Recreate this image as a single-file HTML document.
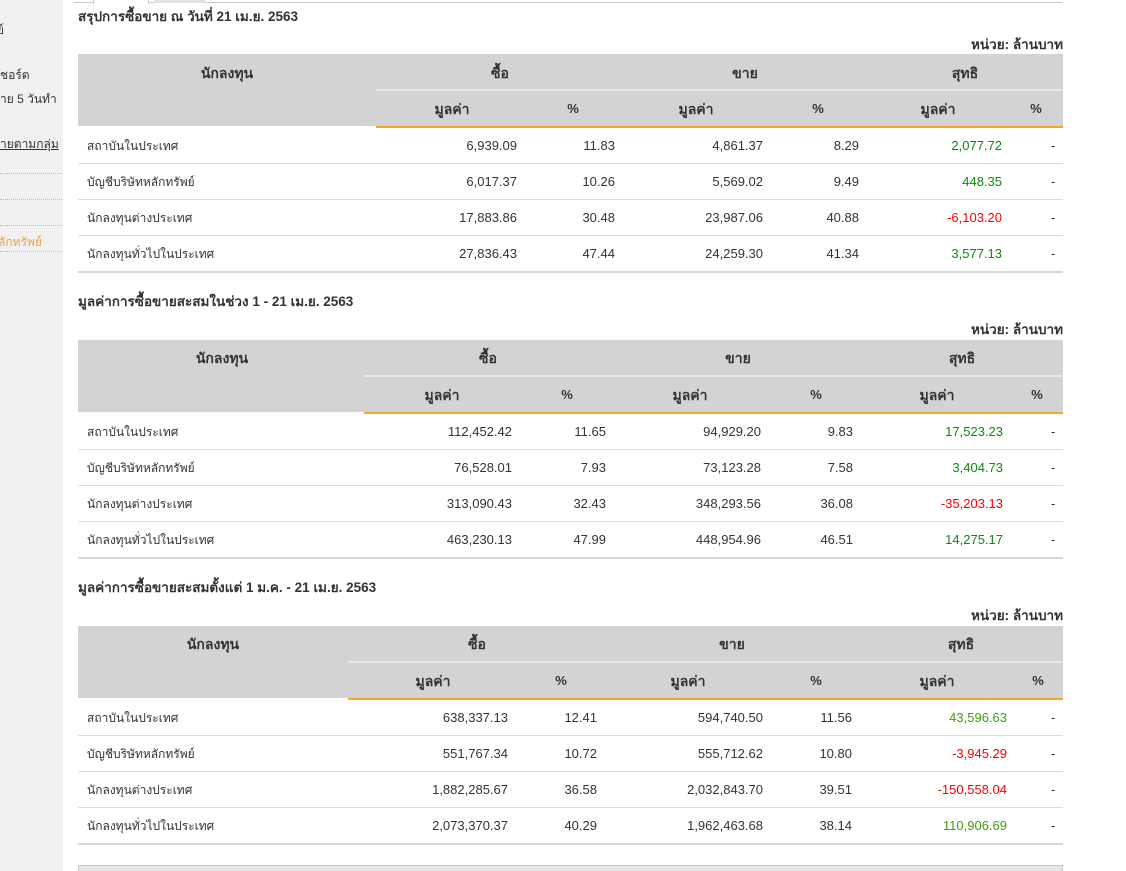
<!DOCTYPE html>
<html><head><meta charset="utf-8">
<style>
*{margin:0;padding:0;box-sizing:border-box}
html,body{width:1126px;height:871px;overflow:hidden;background:#fff}
body{position:relative;font-family:"Liberation Sans","DejaVu Sans",sans-serif;font-size:13px;color:#333}
.a{position:absolute;white-space:nowrap;height:20px;line-height:20px;padding-top:1px}
.c{text-align:center;width:140px}
.r{text-align:right;width:200px}
.b{font-weight:bold}
.h{font-size:14px}
.tt{font-size:13.5px}
.lb{font-size:12px}
.sb{position:absolute;left:0;top:0;width:63px;height:871px;background:#f1f1f1;overflow:hidden;font-size:12px}
.dot{position:absolute;left:0;width:62px;height:0;border-top:1px dotted #bbb}
.t{position:absolute;left:0;width:1126px}
.hb{position:absolute;left:78px;width:985px;top:0;height:72px;background:#d3d3d3}
.dv{position:absolute;top:35px;height:2px;background:#e8e8e8}
.or{position:absolute;top:72px;height:2px;background:#f7a827}
.rw{position:absolute;left:78px;width:985px;height:36px;border-bottom:1px solid #dedede}
.rl{border-bottom:2px solid #d8d8d8}
.g{color:#0a8a0a}.g3{color:#3f9e10}.rd{color:#f00}
</style></head><body>

<div class="sb">
  <div class="a" style="left:-3px;top:19px">ย์</div>
  <div class="a" style="left:0;top:64px">ชอร์ต</div>
  <div class="a" style="left:0;top:88px">าย 5 วันทำ</div>
  <div class="a" style="left:0;top:133px;text-decoration:underline">ายตามกลุ่ม</div>
  <div class="dot" style="top:173px"></div>
  <div class="dot" style="top:199px"></div>
  <div class="dot" style="top:225px"></div>
  <div class="a" style="left:-2px;top:231px;color:#f0a040">ลักทรัพย์</div>
  <div class="dot" style="top:251px"></div>
</div>

<!-- top tabs -->
<div style="position:absolute;left:73px;top:2px;width:990px;height:1px;background:#ccc"></div>
<div style="position:absolute;left:93px;top:0;width:56px;height:4px;background:#fff;border-left:1px solid #ccc;border-right:1px solid #ccc"></div>
<div style="position:absolute;left:154px;top:0;width:51px;height:3px;background:#e2e2e2"></div>

<!-- TABLE 1 -->
<div class="t" style="top:54px">
  <div class="a b tt" style="left:78px;top:-48px">สรุปการซื้อขาย ณ วันที่ 21 เม.ย. 2563</div>
  <div class="a b r tt" style="left:863px;top:-20px">หน่วย: ล้านบาท</div>
  <div class="hb"></div>
  <div class="dv" style="left:376px;width:687px"></div>
  <div class="or" style="left:376px;width:687px"></div>
  <div class="a b c h" style="left:157px;top:8px">นักลงทุน</div>
  <div class="a b c h" style="left:430px;top:8px">ซื้อ</div>
  <div class="a b c h" style="left:675px;top:8px">ขาย</div>
  <div class="a b c h" style="left:895px;top:8px">สุทธิ</div>
  <div class="a b c h" style="left:382px;top:44px">มูลค่า</div>
  <div class="a b c" style="left:503px;top:44px">%</div>
  <div class="a b c h" style="left:626px;top:44px">มูลค่า</div>
  <div class="a b c" style="left:748px;top:44px">%</div>
  <div class="a b c h" style="left:868px;top:44px">มูลค่า</div>
  <div class="a b c" style="left:966px;top:44px">%</div>

  <div class="rw" style="top:74px;height:36px"></div>
  <div class="rw" style="top:110px"></div>
  <div class="rw" style="top:146px"></div>
  <div class="rw rl" style="top:182px;height:37px"></div>

  <div class="a lb" style="left:87px;top:81px">สถาบันในประเทศ</div>
  <div class="a r" style="left:317px;top:81px">6,939.09</div>
  <div class="a r" style="left:415px;top:81px">11.83</div>
  <div class="a r" style="left:563px;top:81px">4,861.37</div>
  <div class="a r" style="left:659px;top:81px">8.29</div>
  <div class="a r g" style="left:802px;top:81px">2,077.72</div>
  <div class="a" style="left:1051px;top:81px">-</div>

  <div class="a lb" style="left:87px;top:117px">บัญชีบริษัทหลักทรัพย์</div>
  <div class="a r" style="left:317px;top:117px">6,017.37</div>
  <div class="a r" style="left:415px;top:117px">10.26</div>
  <div class="a r" style="left:563px;top:117px">5,569.02</div>
  <div class="a r" style="left:659px;top:117px">9.49</div>
  <div class="a r g" style="left:802px;top:117px">448.35</div>
  <div class="a" style="left:1051px;top:117px">-</div>

  <div class="a lb" style="left:87px;top:153px">นักลงทุนต่างประเทศ</div>
  <div class="a r" style="left:317px;top:153px">17,883.86</div>
  <div class="a r" style="left:415px;top:153px">30.48</div>
  <div class="a r" style="left:563px;top:153px">23,987.06</div>
  <div class="a r" style="left:659px;top:153px">40.88</div>
  <div class="a r rd" style="left:802px;top:153px">-6,103.20</div>
  <div class="a" style="left:1051px;top:153px">-</div>

  <div class="a lb" style="left:87px;top:189px">นักลงทุนทั่วไปในประเทศ</div>
  <div class="a r" style="left:317px;top:189px">27,836.43</div>
  <div class="a r" style="left:415px;top:189px">47.44</div>
  <div class="a r" style="left:563px;top:189px">24,259.30</div>
  <div class="a r" style="left:659px;top:189px">41.34</div>
  <div class="a r g" style="left:802px;top:189px">3,577.13</div>
  <div class="a" style="left:1051px;top:189px">-</div>
</div>

<!-- TABLE 2 -->
<div class="t" style="top:340px">
  <div class="a b tt" style="left:78px;top:-49px">มูลค่าการซื้อขายสะสมในช่วง 1 - 21 เม.ย. 2563</div>
  <div class="a b r tt" style="left:863px;top:-21px">หน่วย: ล้านบาท</div>
  <div class="hb"></div>
  <div class="dv" style="left:364px;width:699px"></div>
  <div class="or" style="left:364px;width:699px"></div>
  <div class="a b c h" style="left:152px;top:7px">นักลงทุน</div>
  <div class="a b c h" style="left:418px;top:7px">ซื้อ</div>
  <div class="a b c h" style="left:668px;top:7px">ขาย</div>
  <div class="a b c h" style="left:892px;top:7px">สุทธิ</div>
  <div class="a b c h" style="left:372px;top:44px">มูลค่า</div>
  <div class="a b c" style="left:497px;top:44px">%</div>
  <div class="a b c h" style="left:620px;top:44px">มูลค่า</div>
  <div class="a b c" style="left:746px;top:44px">%</div>
  <div class="a b c h" style="left:867px;top:44px">มูลค่า</div>
  <div class="a b c" style="left:967px;top:44px">%</div>

  <div class="rw" style="top:74px"></div>
  <div class="rw" style="top:110px"></div>
  <div class="rw" style="top:146px"></div>
  <div class="rw rl" style="top:182px;height:37px"></div>

  <div class="a lb" style="left:87px;top:81px">สถาบันในประเทศ</div>
  <div class="a r" style="left:312px;top:81px">112,452.42</div>
  <div class="a r" style="left:406px;top:81px">11.65</div>
  <div class="a r" style="left:561px;top:81px">94,929.20</div>
  <div class="a r" style="left:653px;top:81px">9.83</div>
  <div class="a r g" style="left:803px;top:81px">17,523.23</div>
  <div class="a" style="left:1051px;top:81px">-</div>

  <div class="a lb" style="left:87px;top:117px">บัญชีบริษัทหลักทรัพย์</div>
  <div class="a r" style="left:312px;top:117px">76,528.01</div>
  <div class="a r" style="left:406px;top:117px">7.93</div>
  <div class="a r" style="left:561px;top:117px">73,123.28</div>
  <div class="a r" style="left:653px;top:117px">7.58</div>
  <div class="a r g" style="left:803px;top:117px">3,404.73</div>
  <div class="a" style="left:1051px;top:117px">-</div>

  <div class="a lb" style="left:87px;top:153px">นักลงทุนต่างประเทศ</div>
  <div class="a r" style="left:312px;top:153px">313,090.43</div>
  <div class="a r" style="left:406px;top:153px">32.43</div>
  <div class="a r" style="left:561px;top:153px">348,293.56</div>
  <div class="a r" style="left:653px;top:153px">36.08</div>
  <div class="a r rd" style="left:803px;top:153px">-35,203.13</div>
  <div class="a" style="left:1051px;top:153px">-</div>

  <div class="a lb" style="left:87px;top:189px">นักลงทุนทั่วไปในประเทศ</div>
  <div class="a r" style="left:312px;top:189px">463,230.13</div>
  <div class="a r" style="left:406px;top:189px">47.99</div>
  <div class="a r" style="left:561px;top:189px">448,954.96</div>
  <div class="a r" style="left:653px;top:189px">46.51</div>
  <div class="a r g" style="left:803px;top:189px">14,275.17</div>
  <div class="a" style="left:1051px;top:189px">-</div>
</div>

<!-- TABLE 3 -->
<div class="t" style="top:626px">
  <div class="a b tt" style="left:78px;top:-49px">มูลค่าการซื้อขายสะสมตั้งแต่ 1 ม.ค. - 21 เม.ย. 2563</div>
  <div class="a b r tt" style="left:863px;top:-21px">หน่วย: ล้านบาท</div>
  <div class="hb"></div>
  <div class="dv" style="left:348px;width:715px"></div>
  <div class="or" style="left:348px;width:715px"></div>
  <div class="a b c h" style="left:143px;top:7px">นักลงทุน</div>
  <div class="a b c h" style="left:407px;top:7px">ซื้อ</div>
  <div class="a b c h" style="left:662px;top:7px">ขาย</div>
  <div class="a b c h" style="left:891px;top:7px">สุทธิ</div>
  <div class="a b c h" style="left:363px;top:44px">มูลค่า</div>
  <div class="a b c" style="left:491px;top:44px">%</div>
  <div class="a b c h" style="left:618px;top:44px">มูลค่า</div>
  <div class="a b c" style="left:746px;top:44px">%</div>
  <div class="a b c h" style="left:867px;top:44px">มูลค่า</div>
  <div class="a b c" style="left:968px;top:44px">%</div>

  <div class="rw" style="top:74px"></div>
  <div class="rw" style="top:110px"></div>
  <div class="rw" style="top:146px"></div>
  <div class="rw rl" style="top:182px;height:37px"></div>

  <div class="a lb" style="left:87px;top:81px">สถาบันในประเทศ</div>
  <div class="a r" style="left:308px;top:81px">638,337.13</div>
  <div class="a r" style="left:397px;top:81px">12.41</div>
  <div class="a r" style="left:563px;top:81px">594,740.50</div>
  <div class="a r" style="left:652px;top:81px">11.56</div>
  <div class="a r g3" style="left:807px;top:81px">43,596.63</div>
  <div class="a" style="left:1051px;top:81px">-</div>

  <div class="a lb" style="left:87px;top:117px">บัญชีบริษัทหลักทรัพย์</div>
  <div class="a r" style="left:308px;top:117px">551,767.34</div>
  <div class="a r" style="left:397px;top:117px">10.72</div>
  <div class="a r" style="left:563px;top:117px">555,712.62</div>
  <div class="a r" style="left:652px;top:117px">10.80</div>
  <div class="a r rd" style="left:807px;top:117px">-3,945.29</div>
  <div class="a" style="left:1051px;top:117px">-</div>

  <div class="a lb" style="left:87px;top:153px">นักลงทุนต่างประเทศ</div>
  <div class="a r" style="left:308px;top:153px">1,882,285.67</div>
  <div class="a r" style="left:397px;top:153px">36.58</div>
  <div class="a r" style="left:563px;top:153px">2,032,843.70</div>
  <div class="a r" style="left:652px;top:153px">39.51</div>
  <div class="a r rd" style="left:807px;top:153px">-150,558.04</div>
  <div class="a" style="left:1051px;top:153px">-</div>

  <div class="a lb" style="left:87px;top:189px">นักลงทุนทั่วไปในประเทศ</div>
  <div class="a r" style="left:308px;top:189px">2,073,370.37</div>
  <div class="a r" style="left:397px;top:189px">40.29</div>
  <div class="a r" style="left:563px;top:189px">1,962,463.68</div>
  <div class="a r" style="left:652px;top:189px">38.14</div>
  <div class="a r g3" style="left:807px;top:189px">110,906.69</div>
  <div class="a" style="left:1051px;top:189px">-</div>
</div>

<!-- bottom box -->
<div style="position:absolute;left:78px;top:865px;width:985px;height:10px;background:#e8e8e8;border:1px solid #c8c8c8"></div>

</body></html>
